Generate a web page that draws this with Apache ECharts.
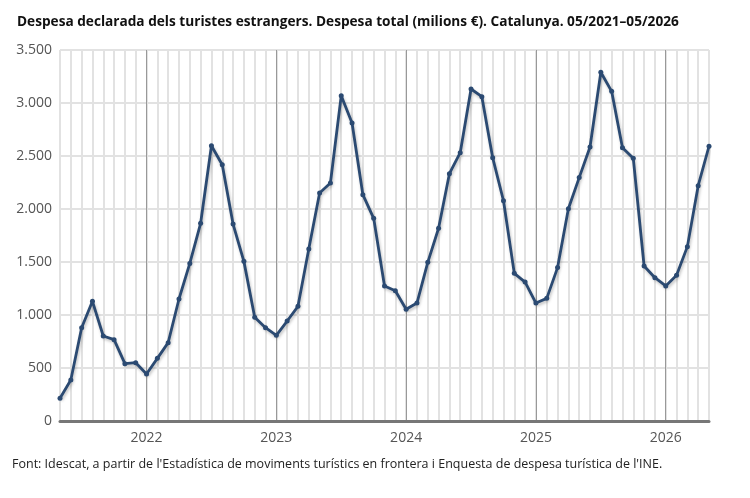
<!DOCTYPE html>
<html>
<head>
<meta charset="utf-8">
<script src="https://cdn.jsdelivr.net/npm/echarts@6/dist/echarts.min.js"></script>
<style>
  html, body { margin: 0; padding: 0; background: #fff; }
  #chart { width: 750px; height: 498px; }
</style>
</head>
<body>
<div id="chart"></div>
<script>
// mesos 05/2021 - 05/2026
var months = [];
for (var y = 2021; y <= 2026; y++) {
    for (var m = 1; m <= 12; m++) {
        if ((y == 2021 && m < 5) || (y == 2026 && m > 5)) continue;
        months.push((m < 10 ? '0' + m : m) + '/' + y);
    }
}

// despesa total (milions €)
var spending = [
    214, 387, 880, 1129, 802, 767, 541, 550,
    443, 591, 739, 1151, 1487, 1865, 2597, 2418, 1858, 1506, 978, 880,
    808, 943, 1082, 1623, 2151, 2245, 3069, 2811, 2135, 1912, 1274, 1229,
    1054, 1113, 1497, 1818, 2333, 2531, 3132, 3060, 2484, 2078, 1393, 1311,
    1113, 1157, 1447, 2003, 2296, 2585, 3290, 3110, 2578, 2478, 1462, 1352,
    1274, 1374, 1645, 2220, 2592
];

var yTicks = [0, 500, 1000, 1500, 2000, 2500, 3000, 3500];

function isJanuary(i) {
    return months[i].indexOf('01/') === 0;
}

function fmtThousands(v) {
    return String(v).replace(/\B(?=(\d{3})+(?!\d))/g, '.');
}

var myChart = echarts.init(document.getElementById('chart'));

var option = {
    animation: false,
    textStyle: { fontFamily: 'Open Sans' },
    title: {
        text: 'Despesa declarada dels turistes estrangers. Despesa total (milions €). Catalunya. 05/2021–05/2026',
        left: 12,
        top: 10,
        textStyle: { fontSize: 13.65, fontWeight: 'bold', color: '#111', fontFamily: 'Open Sans' }
    },
    graphic: [{
        type: 'text',
        left: 12,
        top: 458,
        style: {
            text: "Font: Idescat, a partir de l'Estadística de moviments turístics en frontera i Enquesta de despesa turística de l'INE.",
            fontSize: 12.5,
            fill: '#222',
            fontFamily: 'Open Sans'
        }
    }],
    grid: { left: 60, right: 41, top: 50, bottom: 77 },
    xAxis: [{
        type: 'category',
        data: months,
        boundaryGap: false,
        axisLine: { lineStyle: { color: '#777', width: 3 } },
        axisTick: { show: false },
        axisLabel: {
            interval: function (i) { return isJanuary(i); },
            formatter: function (v) { return v.split('/')[1]; },
            color: '#555',
            fontSize: 14,
            margin: 10
        },
        splitLine: {
            show: true,
            interval: 0,
            showMinLine: true,
            showMaxLine: true,
            lineStyle: { color: '#e2e2e2', width: 2 }
        }
    }, {
        type: 'category',
        data: months,
        boundaryGap: false,
        position: 'bottom',
        axisLine: { show: false },
        axisTick: { show: false },
        axisLabel: { show: false },
        splitLine: {
            show: true,
            interval: function (i) { return isJanuary(i); },
            lineStyle: { color: '#999', width: 1 }
        }
    }],
    yAxis: {
        type: 'value',
        min: yTicks[0],
        max: yTicks[yTicks.length - 1],
        interval: 500,
        axisLine: { show: false },
        axisTick: { show: false },
        axisLabel: {
            color: '#555',
            fontSize: 14,
            margin: 8,
            formatter: fmtThousands
        },
        splitLine: { lineStyle: { color: '#d8d8d8', width: 1.5 } }
    },
    series: [{
        name: 'Despesa total',
        type: 'line',
        data: spending,
        symbol: 'circle',
        symbolSize: 5,
        itemStyle: { color: '#2b4a72' },
        lineStyle: {
            color: '#2b4a72',
            width: 2.8,
            shadowColor: 'rgba(0,0,0,0.25)',
            shadowBlur: 3,
            shadowOffsetX: 1,
            shadowOffsetY: 2
        }
    }]
};

myChart.setOption(option, true);
</script>
</body>
</html>
